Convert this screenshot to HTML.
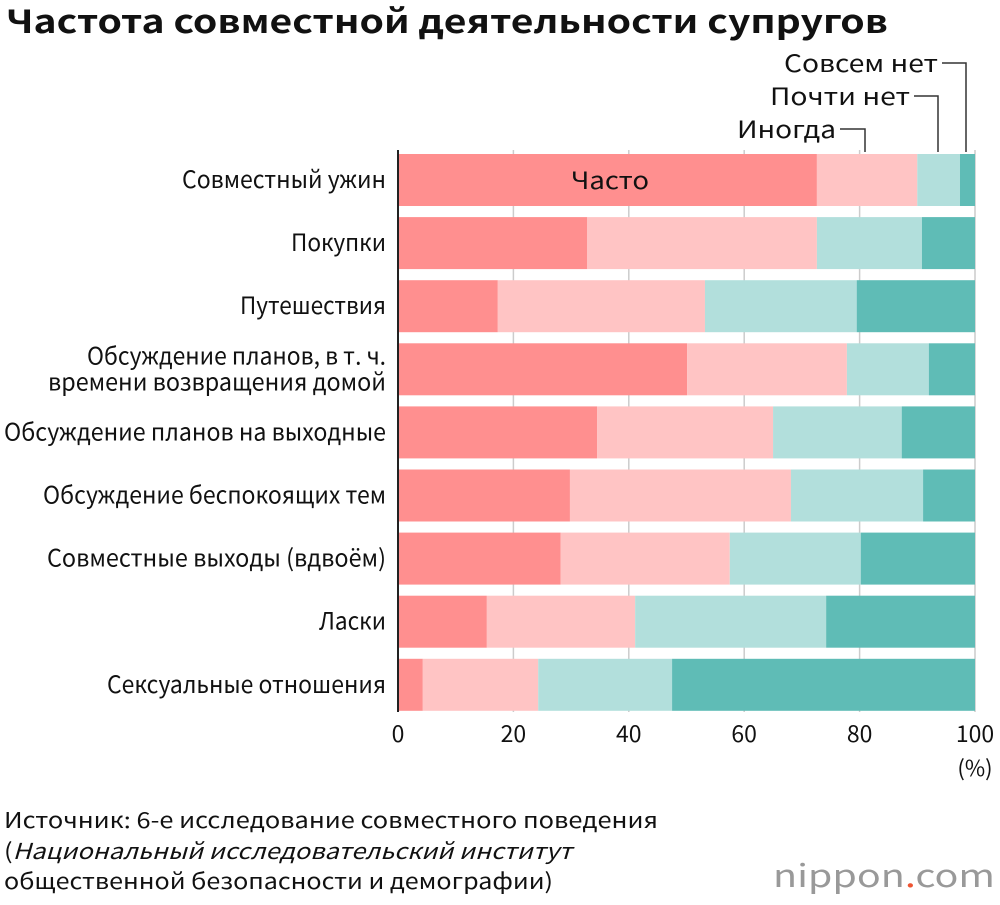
<!DOCTYPE html>
<html><head><meta charset="utf-8"><style>
body{margin:0;background:#fff;font-family:"Noto Sans CJK JP","Liberation Sans",sans-serif;}
svg text{font-family:"Noto Sans CJK JP","Liberation Sans",sans-serif;}
</style></head><body>
<svg id="c" width="1000" height="900" xmlns="http://www.w3.org/2000/svg">
<text x="6" y="33" font-size="32" font-weight="bold" fill="#111" textLength="882" lengthAdjust="spacingAndGlyphs">Частота совместной деятельности супругов</text>
<g id="grid"></g><g id="bars"></g><g id="labels"></g>
<line x1="398" y1="150" x2="398" y2="712" stroke="#222" stroke-width="2"/>
<text x="975" y="776" font-size="22" text-anchor="middle" fill="#111">(%)</text>
<g font-size="24" fill="#111">
<text x="784" y="72" textLength="154" lengthAdjust="spacingAndGlyphs">Совсем нет</text>
<polyline points="942,63 966,63 966,152" fill="none" stroke="#333" stroke-width="1.5"/>
<text x="770" y="105" textLength="140" lengthAdjust="spacingAndGlyphs">Почти нет</text>
<polyline points="914,96 938,96 938,152" fill="none" stroke="#333" stroke-width="1.5"/>
<text x="737" y="138" textLength="99" lengthAdjust="spacingAndGlyphs">Иногда</text>
<polyline points="840,129 865,129 865,152" fill="none" stroke="#333" stroke-width="1.5"/>
</g>
<text x="571" y="189" font-size="24" textLength="78" lengthAdjust="spacingAndGlyphs" fill="#111">Часто</text>
<g font-size="22" fill="#111">
<text x="4" y="828" textLength="654" lengthAdjust="spacingAndGlyphs">Источник: 6-е исследование совместного поведения</text>
<text x="4" y="859" textLength="568" lengthAdjust="spacingAndGlyphs">(<tspan font-style="italic">Национальный исследовательский институт</tspan></text>
<text x="4" y="889" textLength="549" lengthAdjust="spacingAndGlyphs">общественной безопасности и демографии)</text>
</g>
<text x="773" y="887" font-size="31" textLength="222" lengthAdjust="spacingAndGlyphs" fill="#999">nippon<tspan fill="#e53">.</tspan>com</text>
</svg>
<script>
const categories=["Совместный ужин","Покупки","Путешествия","Обсуждение планов, в т. ч.|времени возвращения домой","Обсуждение планов на выходные","Обсуждение беспокоящих тем","Совместные выходы (вдвоём)","Ласки","Сексуальные отношения"];
const often=[72.6,32.8,17.3,50.1,34.5,29.8,28.2,15.4,4.3];
const sometimes=[17.4,39.8,35.9,27.7,30.5,38.3,29.3,25.7,20.0];
const rarely=[7.4,18.2,26.3,14.2,22.3,22.9,22.7,33.1,23.2];
const none=[2.6,9.2,20.5,8.0,12.7,9.0,19.8,25.8,52.5];
const ticks=[0,20,40,60,80,100];
const labelWidths=["204","95","146","299|338","382","343","339","67","279"];
const colors=["#ff8f8f","#ffc4c4","#b2dfdc","#5fbcb6"];
const NS="http://www.w3.org/2000/svg";
const x=v=>398+v*5.77;
const yc=i=>180+i*63.1;
const g=document.getElementById('grid'),b=document.getElementById('bars'),l=document.getElementById('labels');
function mk(t,a,p){const e=document.createElementNS(NS,t);for(const k in a)e.setAttribute(k,a[k]);p.appendChild(e);return e;}
ticks.forEach(t=>{
 const ln=mk('line',{x1:x(t),x2:x(t),y1:150,y2:712,stroke:'#ccc','stroke-width':1.5},g);
 
 
 const tx=mk('text',{x:x(t),y:742,'font-size':23,'text-anchor':'middle',fill:'#111'},l);
 tx.textContent=t;
 
 
});
const series=[often,sometimes,rarely,none];
const snames=['often','sometimes','rarely','none'];
categories.forEach((c,i)=>{
 let acc=0;
 series.forEach((s,k)=>{
  const r=mk('rect',{x:x(acc),y:yc(i)-26,width:s[i]*5.77,height:52,fill:colors[k]},b);
  
  
  acc+=s[i];
 });
 const parts=c.split('|');
 const ws=labelWidths[i].split('|');
 parts.forEach((p,j)=>{
  const w=+ws[j];
  const t=mk('text',{x:386-w,y:yc(i)+8+(parts.length>1?(j?13:-13):0),'font-size':24,fill:'#111',textLength:w,lengthAdjust:'spacingAndGlyphs'},l);
  t.textContent=p;
  
  
 });
});
</script>
</body></html>
